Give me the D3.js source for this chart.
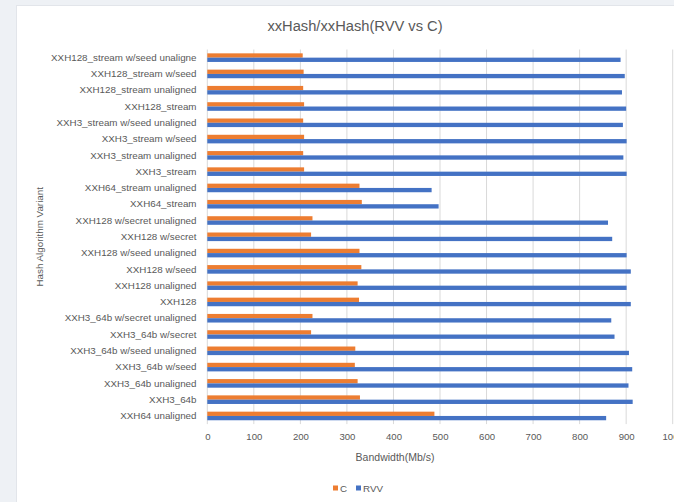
<!DOCTYPE html>
<html>
<head>
<meta charset="utf-8">
<script src="https://cdn.jsdelivr.net/npm/d3@7"></script>
<style>
  html, body { margin: 0; padding: 0; background: #eef1f5; }
  svg { display: block; }
  text { font-family: "Liberation Sans", Arial, sans-serif; fill: #595959; }
</style>
</head>
<body>
<svg id="chart" width="674" height="502"></svg>
<script>
// Hash variants, listed top to bottom
const categories = [
  "XXH128_stream w/seed unaligne",
  "XXH128_stream w/seed",
  "XXH128_stream unaligned",
  "XXH128_stream",
  "XXH3_stream w/seed unaligned",
  "XXH3_stream w/seed",
  "XXH3_stream unaligned",
  "XXH3_stream",
  "XXH64_stream unaligned",
  "XXH64_stream",
  "XXH128 w/secret unaligned",
  "XXH128 w/secret",
  "XXH128 w/seed unaligned",
  "XXH128 w/seed",
  "XXH128 unaligned",
  "XXH128",
  "XXH3_64b w/secret unaligned",
  "XXH3_64b w/secret",
  "XXH3_64b w/seed unaligned",
  "XXH3_64b w/seed",
  "XXH3_64b unaligned",
  "XXH3_64b",
  "XXH64 unaligned"
];

// Bandwidth in Mb/s
const cValues = [205, 207, 206, 208, 206, 208, 206, 208, 327, 332, 226, 223, 327, 331, 323, 326, 226, 223, 318, 317, 323, 328, 488];
const rvvValues = [888, 897, 891, 900, 893, 901, 894, 901, 482, 497, 861, 870, 901, 910, 901, 910, 868, 875, 906, 913, 905, 914, 857];

const seriesNames = ["C", "RVV"];
const seriesColors = ["#ED7D31", "#4472C4"];
const xTicks = [0, 100, 200, 300, 400, 500, 600, 700, 800, 900, 1000];

const svg = d3.select("#chart");

// chart card
svg.append("rect")
  .attr("x", 16.5).attr("y", 5.5)
  .attr("width", 700).attr("height", 520)
  .attr("fill", "#ffffff")
  .attr("stroke", "#e2e5ea");

const plot = { left: 207.3, right: 672.7, top: 49.5, bottom: 424.1 };

const x = d3.scaleLinear().domain([0, 1000]).range([plot.left, plot.right]);
const y = d3.scaleBand().domain(categories).range([plot.top, plot.bottom]).padding(0);
const barH = 4.3;
const groupH = barH * 2;
const sub = d3.scaleBand().domain(seriesNames)
  .range([0, groupH]).padding(0);

// vertical gridlines
svg.append("g")
  .selectAll("line")
  .data(xTicks)
  .join("line")
  .attr("x1", d => x(d)).attr("x2", d => x(d))
  .attr("y1", plot.top).attr("y2", plot.bottom)
  .attr("stroke", "#d9d9d9")
  .attr("stroke-width", 1);

// bars
const rows = categories.map((c, i) => ({ cat: c, vals: [cValues[i], rvvValues[i]] }));
const groups = svg.append("g").selectAll("g")
  .data(rows)
  .join("g")
  .attr("transform", d => `translate(0,${y(d.cat) + (y.bandwidth() - groupH) / 2})`);

groups.selectAll("rect")
  .data(d => d.vals.map((v, k) => ({ name: seriesNames[k], v, k })))
  .join("rect")
  .attr("x", x(0))
  .attr("y", d => sub(d.name))
  .attr("width", d => x(d.v) - x(0))
  .attr("height", sub.bandwidth())
  .attr("fill", d => seriesColors[d.k]);

// category labels
const yAxis = d3.axisLeft(y).tickSize(0).tickPadding(0);
const gy = svg.append("g")
  .attr("transform", `translate(196.5,0)`)
  .call(yAxis);
gy.select(".domain").remove();
gy.selectAll("text")
  .attr("font-size", "9.8px")
  .attr("font-family", "Liberation Sans, Arial, sans-serif")
  .attr("fill", "#595959");

// value axis labels
const xAxis = d3.axisBottom(x).tickValues(xTicks).tickFormat(d3.format("d")).tickSize(0).tickPadding(0);
const gx = svg.append("g")
  .attr("transform", `translate(0,433)`)
  .call(xAxis);
gx.select(".domain").remove();
gx.selectAll("text")
  .attr("font-size", "9.6px")
  .attr("font-family", "Liberation Sans, Arial, sans-serif")
  .attr("fill", "#595959");

// title
svg.append("text")
  .attr("x", 355).attr("y", 31)
  .attr("text-anchor", "middle")
  .attr("font-size", "14.7px")
  .text("xxHash/xxHash(RVV vs C)");

// axis titles
svg.append("text")
  .attr("x", 395).attr("y", 461)
  .attr("text-anchor", "middle")
  .attr("font-size", "10.5px")
  .text("Bandwidth(Mb/s)");

svg.append("text")
  .attr("transform", `translate(43,${(plot.top + plot.bottom) / 2}) rotate(-90)`)
  .attr("text-anchor", "middle")
  .attr("font-size", "9.8px")
  .text("Hash Algorithm Variant");

// legend
const legend = svg.append("g").attr("transform", "translate(333,488)");
const items = legend.selectAll("g")
  .data(seriesNames)
  .join("g")
  .attr("transform", (d, i) => `translate(${i * 23},0)`);
items.append("rect")
  .attr("x", 0).attr("y", -2.5)
  .attr("width", 5).attr("height", 5)
  .attr("fill", (d, i) => seriesColors[i]);
items.append("text")
  .attr("x", 7).attr("y", 3.5)
  .attr("font-size", "9.8px")
  .text(d => d);
</script>
</body>
</html>
